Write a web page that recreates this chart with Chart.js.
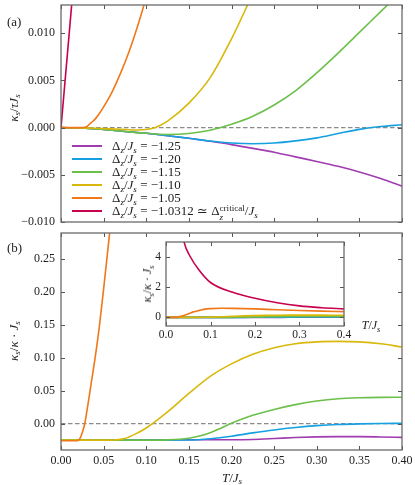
<!DOCTYPE html>
<html>
<head>
<meta charset="utf-8">
<script src="https://cdn.jsdelivr.net/npm/chart.js@4.4.1/dist/chart.umd.min.js"></script>
<style>
  body { margin: 0; background: #fff; font-family: 'Liberation Serif', 'DejaVu Serif', serif; color: #222; }
  #wrap { position: relative; width: 415px; height: 485px; overflow: hidden; }
  canvas { position: absolute; }
  .txt { position: absolute; white-space: nowrap; font-size: 13px; line-height: 1; }
  .rot { transform: translate(-50%, -50%) rotate(-90deg); }
  .ctr { transform: translate(-50%, -50%); }
  sub { font-size: 70%; vertical-align: -0.3em; line-height: 0; }
  .ss { display: inline-block; font-size: 70%; line-height: 1em; vertical-align: -0.55em; }
  #legend .row { position: absolute; left: 72px; height: 14px; }
  #legend .swatch { position: absolute; left: 0; top: 6px; width: 30px; height: 2px; }
  #legend .lab { position: absolute; left: 40px; top: 0; font-size: 13px; white-space: nowrap; line-height: 14px; }
</style>
</head>
<body>
<div id="wrap">
  <canvas id="chartA" width="415" height="230" style="left:0;top:0"></canvas>
  <canvas id="chartB" width="415" height="255" style="left:0;top:230px"></canvas>
  <canvas id="chartIn" width="250" height="110" style="left:110px;top:236px"></canvas>

  <div class="txt" style="left:7px;top:15px">(a)</div>
  <div class="txt" style="left:7px;top:241px">(b)</div>
  <div class="txt rot" style="left:13px;top:108px"><i>κ<sub>s</sub></i>/<i>τJ<sub>s</sub></i></div>
  <div class="txt rot" style="left:13px;top:341px"><i>κ<sub>s</sub></i>/<i>κ</i> · <i>J<sub>s</sub></i></div>
  <div class="txt ctr" style="left:232px;top:477px"><i>T</i>/<i>J<sub>s</sub></i></div>
  <div class="txt rot" style="left:147px;top:284px;font-size:12px"><i>κ<sub>s</sub></i>/<i>κ</i> · <i>J<sub>s</sub></i></div>
  <div class="txt ctr" style="left:371px;top:325px;font-size:12px"><i>T</i>/<i>J<sub>s</sub></i></div>
  <div id="legend"></div>
</div>

<script>
// common temperature grid T/Js
const tGrid = [0, 0.025, 0.05, 0.075, 0.1, 0.125, 0.15, 0.175, 0.2, 0.225, 0.25, 0.275, 0.3, 0.325, 0.35, 0.375, 0.4];

// Delta_z/Js values of the six curves
const deltaLabels = ['−1.25', '−1.20', '−1.15', '−1.10', '−1.05', '−1.0312'];

// panel (a): kappa_s / tau Js
const aPurple = [0, -0.00003, -0.0002, -0.0004, -0.0006, -0.00085, -0.00113, -0.00145, -0.0018, -0.0022, -0.0026, -0.0031, -0.00358, -0.0041, -0.0047, -0.0054, -0.0062];
const aBlue = [0, -0.00003, -0.0002, -0.0004, -0.0006, -0.00085, -0.00113, -0.00142, -0.00162, -0.0017, -0.00163, -0.0014, -0.00108, -0.00062, -0.00018, 0.00012, 0.0003];
const aGreen = [0, -0.00003, -0.0002, -0.0004, -0.0006, -0.00072, -0.00062, -0.00028, 0.00035, 0.0012, 0.0024, 0.0039, 0.0058, 0.0079, 0.0101, 0.0123, 0.0145];
const aYellowT = [0, 0.025, 0.05, 0.075, 0.09, 0.1, 0.11, 0.125, 0.15, 0.175, 0.2, 0.225];
const aYellow = [0, -0.00002, -0.0001, -0.0002, -0.00025, -0.0002, 0, 0.0007, 0.0026, 0.0053, 0.0094, 0.0142];
const aOrangeT = [0, 0.02, 0.025, 0.03, 0.035, 0.04, 0.045, 0.05, 0.06, 0.07, 0.08, 0.09, 0.1];
const aOrange = [0, 0, 0.00001, 0.0001, 0.0005, 0.0009, 0.0015, 0.0022, 0.0038, 0.0058, 0.0081, 0.0108, 0.0138];
const aRedT = [0, 0.0125, 0.015];
const aRed = [0, 0.013, 0.0156];

// panel (b) and inset: kappa_s / kappa . Js
const bPurple = [-0.0245, -0.0245, -0.0245, -0.0245, -0.0245, -0.0245, -0.0245, -0.0245, -0.0245, -0.024, -0.0226, -0.021, -0.02, -0.0196, -0.0197, -0.0202, -0.0208];
const bBlue = [-0.025, -0.025, -0.025, -0.025, -0.025, -0.025, -0.0248, -0.0228, -0.019, -0.014, -0.0095, -0.0058, -0.003, -0.0012, -0.0002, 0.0003, 0.0005];
const bGreenT = [0, 0.1, 0.125, 0.15, 0.1625, 0.175, 0.1875, 0.2, 0.2125, 0.225, 0.25, 0.275, 0.3, 0.325, 0.35, 0.375, 0.4];
const bGreen = [-0.025, -0.025, -0.0246, -0.0222, -0.0188, -0.0138, -0.0068, 0.0008, 0.0072, 0.0127, 0.0217, 0.029, 0.0345, 0.038, 0.0395, 0.0401, 0.0403];
const bYellowT = [0, 0.05, 0.0625, 0.075, 0.0875, 0.1, 0.125, 0.15, 0.175, 0.2, 0.225, 0.25, 0.275, 0.3, 0.325, 0.35, 0.375, 0.4];
const bYellow = [-0.025, -0.025, -0.0247, -0.0225, -0.0155, -0.0065, 0.018, 0.046, 0.072, 0.091, 0.1055, 0.1155, 0.1217, 0.1245, 0.1252, 0.1244, 0.1215, 0.1167];
const bOrangeT = [0, 0.0175, 0.02, 0.0225, 0.025, 0.0275, 0.03, 0.035, 0.04, 0.045, 0.05, 0.055, 0.06, 0.065, 0.075, 0.085, 0.1, 0.125, 0.15, 0.2, 0.25, 0.3, 0.35, 0.4];
const bOrange = [-0.026, -0.026, -0.0255, -0.022, -0.0135, -0.002, 0.016, 0.058, 0.1, 0.148, 0.205, 0.265, 0.325, 0.37, 0.44, 0.51, 0.56, 0.58, 0.575, 0.54, 0.48, 0.43, 0.39, 0.36];
const bRedT = [0.02, 0.03, 0.041, 0.054, 0.075, 0.1, 0.15, 0.2, 0.25, 0.3, 0.35, 0.4];
const bRed = [10.2, 6.9, 4.96, 4.05, 3.1, 2.3, 1.65, 1.25, 0.95, 0.74, 0.62, 0.54];

// dashed zero reference
const zeroT = [0, 0.4];
const zeroV = [0, 0];

const colors = ['#a03cb0', '#16a0e0', '#6cc04a', '#d8b80a', '#f07818', '#c8004e'];
const FONT = "'Liberation Serif', 'DejaVu Serif', serif";

function pts(xs, ys) {
    return xs.map((x, i) => ({ x: x, y: ys[i] }));
}

function curves(list) {
    return list.map((pair, i) => ({
        data: pts(pair[0], pair[1]),
        borderColor: colors[i],
        borderWidth: 1.6,
        pointRadius: 0,
        fill: false,
        cubicInterpolationMode: 'monotone',
        order: 6 - i
    }));
}

function zeroLine() {
    return {
        data: pts(zeroT, zeroV),
        borderColor: '#8a8a8a',
        borderWidth: 1.2,
        borderDash: [4.5, 2.5],
        pointRadius: 0,
        fill: false,
        order: 10
    };
}

const minus = s => s.replace('-', '−');

// inward ticks on all four sides + frame
const frameTicks = {
    id: 'frameTicks',
    beforeDraw(chart, args, opts) {
        if (opts.fill) {
            const a = chart.chartArea;
            chart.ctx.save();
            chart.ctx.fillStyle = '#fff';
            chart.ctx.fillRect(a.left, a.top, a.width, a.height);
            chart.ctx.restore();
        }
    },
    afterDraw(chart, args, opts) {
        const ctx = chart.ctx, a = chart.chartArea;
        const sx = chart.scales.x, sy = chart.scales.y;
        const len = 4;
        ctx.save();
        ctx.strokeStyle = '#555';
        ctx.lineWidth = 1;
        ctx.beginPath();
        sx.ticks.forEach(t => {
            const p = Math.round(sx.getPixelForValue(t.value)) + 0.5;
            ctx.moveTo(p, a.bottom); ctx.lineTo(p, a.bottom - len);
            ctx.moveTo(p, a.top); ctx.lineTo(p, a.top + len);
        });
        sy.ticks.forEach(t => {
            const p = Math.round(sy.getPixelForValue(t.value)) + 0.5;
            ctx.moveTo(a.left, p); ctx.lineTo(a.left + len, p);
            ctx.moveTo(a.right, p); ctx.lineTo(a.right - len, p);
        });
        ctx.stroke();
        ctx.strokeStyle = '#6a6a6a';
        ctx.lineWidth = 1.3;
        ctx.strokeRect(a.left, a.top, a.width, a.height);
        ctx.restore();
    }
};

function fixedSize(w, h) {
    return function(scale) {
        if (w !== null) scale.width = w;
        if (h !== null) scale.height = h;
        scale.paddingTop = 0; scale.paddingBottom = 0;
        scale.paddingLeft = 0; scale.paddingRight = 0;
    };
}

function makeChart(id, datasets, o) {
    return new Chart(document.getElementById(id), {
        type: 'line',
        data: { datasets: datasets },
        plugins: [frameTicks],
        options: {
            responsive: false,
            animation: false,
            events: [],
            layout: { padding: o.padding },
            plugins: { legend: { display: false }, tooltip: { enabled: false }, frameTicks: { fill: !!o.fill } },
            scales: {
                x: {
                    type: 'linear', min: o.xMin, max: o.xMax,
                    grid: { display: false, drawTicks: false },
                    border: { display: false },
                    afterFit: fixedSize(null, o.xHeight),
                    ticks: {
                        display: o.xLabels, stepSize: o.xStep, includeBounds: false, padding: o.xPad,
                        color: '#222', font: { family: FONT, size: o.fontSize }, maxRotation: 0,
                        callback: v => v.toFixed(o.xDec)
                    }
                },
                y: {
                    type: 'linear', min: o.yMin, max: o.yMax,
                    grid: { display: false, drawTicks: false },
                    border: { display: false },
                    afterFit: fixedSize(o.yWidth, null),
                    ticks: {
                        stepSize: o.yStep, includeBounds: false, padding: o.yPad,
                        color: '#222', font: { family: FONT, size: o.fontSize },
                        callback: v => minus(v.toFixed(o.yDec))
                    }
                }
            }
        }
    });
}

// panel (a)
makeChart('chartA', [zeroLine()].concat(curves([
    [tGrid, aPurple], [tGrid, aBlue], [tGrid, aGreen],
    [aYellowT, aYellow], [aOrangeT, aOrange], [aRedT, aRed]
])), {
    padding: { left: 0, right: 13, top: 5, bottom: 0 },
    xMin: 0, xMax: 0.4, xStep: 0.05, xDec: 2, xLabels: false, xHeight: 8, xPad: 4,
    yMin: -0.01, yMax: 0.013, yStep: 0.005, yDec: 3, yWidth: 61, yPad: 6,
    fontSize: 12
});

const bSets = [
    [tGrid, bPurple], [tGrid, bBlue], [bGreenT, bGreen],
    [bYellowT, bYellow], [bOrangeT, bOrange], [bRedT, bRed]
];

// panel (b)
makeChart('chartB', [zeroLine()].concat(curves(bSets)), {
    padding: { left: 0, right: 13, top: 3, bottom: 0 },
    xMin: 0, xMax: 0.4, xStep: 0.05, xDec: 2, xLabels: true, xHeight: 35, xPad: 4,
    yMin: -0.04, yMax: 0.29, yStep: 0.05, yDec: 2, yWidth: 61, yPad: 6,
    fontSize: 12
});

// inset
makeChart('chartIn', curves(bSets), {
    padding: { left: 0, right: 16, top: 6, bottom: 0 },
    xMin: 0, xMax: 0.4, xStep: 0.1, xDec: 1, xLabels: true, xHeight: 20, xPad: 2,
    yMin: -0.6, yMax: 5, yStep: 2, yDec: 0, yWidth: 56, yPad: 5,
    fontSize: 11.5, fill: true
});

// legend (custom, so the math labels can use sub/superscripts)
const legend = document.getElementById('legend');
deltaLabels.forEach((d, i) => {
    const row = document.createElement('div');
    row.className = 'row';
    row.style.top = (139 + i * 13) + 'px';
    let label = 'Δ<sub><i>z</i></sub>/<i>J<sub>s</sub></i> = ' + d;
    if (i === deltaLabels.length - 1) {
        label += ' ≃ Δ<span class="ss">critical<br><i>z</i></span>/<i>J<sub>s</sub></i>';
    }
    row.innerHTML = '<span class="swatch" style="background:' + colors[i] + '"></span><span class="lab">' + label + '</span>';
    legend.appendChild(row);
});
</script>
</body>
</html>
